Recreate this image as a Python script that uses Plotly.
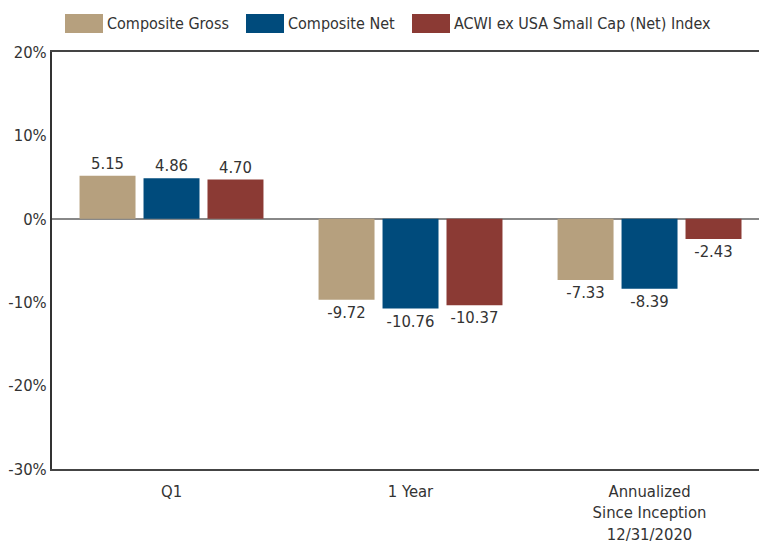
import plotly.graph_objects as go

categories = ["Q1", "1 Year", "Annualized<br>Since Inception<br>12/31/2020"]
series_names = ["Composite Gross", "Composite Net", "ACWI ex USA Small Cap (Net) Index"]
composite_gross = [5.15, -9.72, -7.33]
composite_net = [4.86, -10.76, -8.39]
acwi_index = [4.70, -10.37, -2.43]
tick_vals = [-30, -20, -10, 0, 10, 20]
tick_text = ["-30%", "-20%", "-10%", "0%", "10%", "20%"]

colors = ["#B6A07E", "#004B7C", "#8B3A34"]
FONT = "DejaVu Sans Condensed, Liberation Sans Narrow, sans-serif"
FS = 16.5

W, H = 759, 544
ML, MR, MT, MB = 52, 0, 52, 75
PW, PH = W - ML - MR, H - MT - MB


def px_x(x):
    return (x - ML) / PW


def px_y(y):
    return (H - MB - y) / PH


fig = go.Figure()
for name, vals, col in zip(series_names, [composite_gross, composite_net, acwi_index], colors):
    fig.add_trace(go.Bar(
        name=name, x=categories, y=vals, marker_color=col, marker_line_width=0,
        text=[f"{v:.2f}" for v in vals], textposition="outside",
        textfont=dict(family=FONT, size=FS, color="#333333"), cliponaxis=False,
        showlegend=False,
    ))

# custom legend (large swatches like the reference)
swatch_left = [65, 246, 412]
for name, col, sx in zip(series_names, colors, swatch_left):
    fig.add_shape(type="rect", xref="paper", yref="paper",
                  x0=px_x(sx), x1=px_x(sx + 38), y0=px_y(33), y1=px_y(14),
                  fillcolor=col, line_width=0)
    fig.add_annotation(xref="paper", yref="paper", x=px_x(sx + 40), y=px_y(23.5),
                       xanchor="left", yanchor="middle", text=name, showarrow=False,
                       font=dict(family=FONT, size=16, color="#333333"))

fig.update_layout(
    width=W, height=H,
    margin=dict(l=ML, r=MR, t=MT, b=MB),
    plot_bgcolor="white", paper_bgcolor="white",
    barmode="group", bargap=0.197, bargroupgap=0.125,
    font=dict(family=FONT, size=FS, color="#333333"),
    showlegend=False,
    xaxis=dict(range=[-0.5, 2.458], showline=True, linecolor="#444444", linewidth=2,
               mirror=True, showgrid=False, ticks="", tickfont=dict(size=FS),
               automargin=False, ticklabelstandoff=6),
    yaxis=dict(range=[-30, 20], tickvals=tick_vals, ticktext=tick_text, showgrid=False,
               showline=True, linecolor="#333333", linewidth=2, zeroline=True,
               zerolinecolor="#888888", zerolinewidth=1.5, ticks="", tickfont=dict(size=FS),
               automargin=False),
)

fig.write_html("out.html", config={"displayModeBar": False},
               post_script="document.body.style.margin='0';document.body.style.overflow='hidden';")
